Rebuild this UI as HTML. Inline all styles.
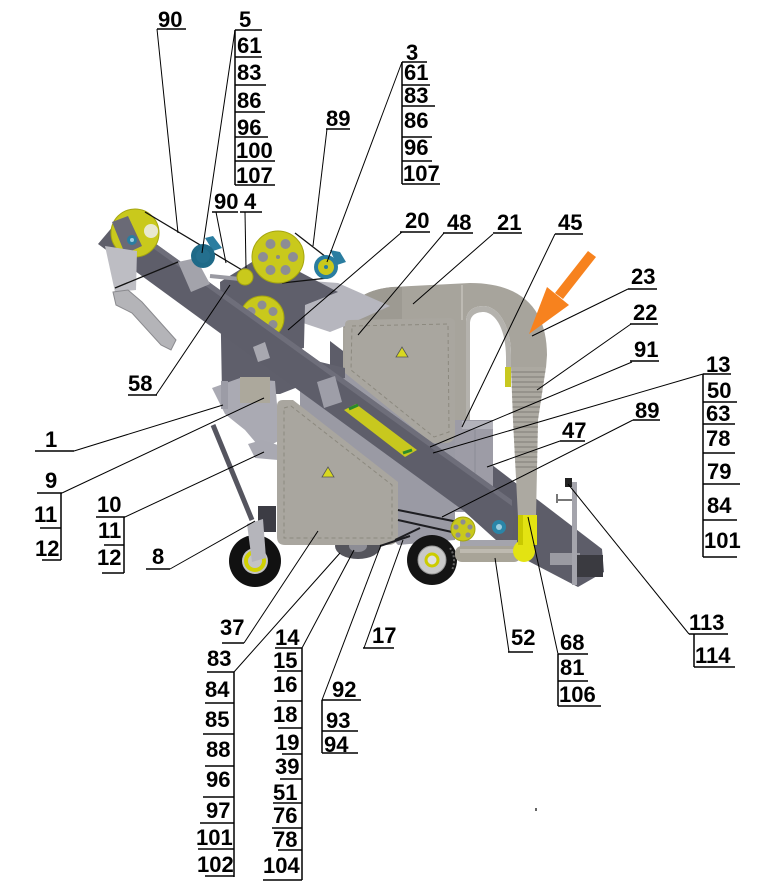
<!DOCTYPE html>
<html><head><meta charset="utf-8"><style>
html,body{margin:0;padding:0;background:#fff;}
svg{display:block;}
text{font-family:"Liberation Sans",Arial,sans-serif;font-weight:bold;font-size:22px;fill:#000;}
</style></head><body>
<svg width="769" height="888" viewBox="0 0 769 888" xmlns="http://www.w3.org/2000/svg">
<defs>
<clipPath id="pipe"><path d="M511,367 L546,367 L538,420 L536,517 L518,517 L513,420 Z"/></clipPath>
</defs>
<rect width="769" height="888" fill="#fff"/>

<polygon points="330,341 602,549 604,572 578,587 507,550 330,390" fill="#5d5d69"/>

<path d="M343,330 Q345,292 392,287 L470,283 C525,283 547,312 547,355 L546,368 L511,368 L511,355 C511,328 500,307 484,306 C472,306 466,312 466,322 L466,430 L343,430 Z" fill="#a7a49c"/>
<path d="M343,330 Q345,292 392,287 L402,287 L402,322 L343,328 Z" fill="#9d9a92"/>
<line x1="462" y1="285" x2="462" y2="320" stroke="#bdbab3" stroke-width="2"/>
<path d="M466,322 C466,312 472,306 484,306 C500,307 511,328 511,355 L511,368 L506,368 L506,357 C506,332 497,313 484,312 C475,312 470,316 470,324 L470,420 L466,420 Z" fill="#b4b2ad"/>
<path d="M511,367 L546,367 L538,420 L536,517 L518,517 L513,420 Z" fill="#aca9a1"/>
<g clip-path="url(#pipe)" stroke-width="1.4">
<path d="M505,372H550M505,377H550M505,382H550M505,387H550M505,392H550M505,397H550M505,402H550M505,407H550M505,412H550M505,417H550M505,422H550M505,427H550M505,432H550M505,437H550M505,442H550M505,447H550M505,452H550M505,457H550M505,462H550M505,467H550" stroke="#8f8c85"/>
</g>
<rect x="505" y="367" width="6" height="20" fill="#c8c820"/>

<rect x="453" y="420" width="40" height="92" fill="#9d9ca6"/>
<rect x="462" y="421" width="31" height="8" fill="#b3b3bb"/>
<line x1="475" y1="430" x2="475" y2="505" stroke="#8b8b95" stroke-width="1"/>

<polygon points="300,385 345,372 455,420 455,540 398,545 300,440" fill="#9a9aa4"/>

<polygon points="298,280 338,283 390,306 345,326 330,332 300,322" fill="#b6b6be"/>
<polygon points="220,282 252,262 300,272 338,292 305,305 303,385 280,394 222,394" fill="#5f5f6b"/>
<polygon points="300,357 345,368 345,378 300,386" fill="#62626e"/>
<circle cx="304" cy="353" r="5" fill="#fff"/>

<circle cx="262" cy="318" r="22" fill="#c9c91c" stroke="#a5a510" stroke-width="1"/>
<g fill="#8d8d93"><circle cx="262" cy="305" r="4.5"/><circle cx="273" cy="311.5" r="4.5"/><circle cx="273" cy="324.5" r="4.5"/><circle cx="251" cy="311.5" r="4.5"/></g>

<path d="M350,320 L450,318 Q455,318 455,323 L455,433 Q455,443 445,443 L432,443 L345,373 L345,325 Q345,320 350,320 Z" fill="#a9a69f"/>
<path d="M352,326 L448,324 L449,432 L434,437 L351,370 Z" fill="none" stroke="#8c897f" stroke-width="1" stroke-dasharray="4 3"/>
<polygon points="396,357 408,357 402,347" fill="#d8d820" stroke="#555" stroke-width="0.8"/>

<polygon points="120,218 512,500 514,520 512,542 505,541 98,244" fill="#5e5e6a"/>
<polygon points="120,218 512,500 512,506 118,223" fill="#6e6e7a"/>
<polygon points="178,262 196,258 210,284 191,292" fill="#a3a3ab"/>
<polygon points="317,382 335,376 342,402 324,408" fill="#9e9ea8"/>
<polygon points="253,347 265,342 270,358 258,362" fill="#a8a8b0"/>
<polygon points="344,410 356,404 417,450 405,457" fill="#c8c81e"/>
<line x1="349" y1="409" x2="358" y2="405" stroke="#2b8a2b" stroke-width="3"/>
<line x1="403" y1="453" x2="412" y2="450" stroke="#2b8a2b" stroke-width="3"/>

<polygon points="212,388 240,378 275,381 280,440 262,450 245,430 225,414" fill="#aaaab3"/>
<rect x="240" y="377" width="30" height="26" fill="#aca89c"/>
<rect x="221" y="381" width="7" height="28" fill="#9c9ca6"/>
<polygon points="248,444 262,440 278,445 278,460 255,458" fill="#a9a9b2"/>

<ellipse cx="358" cy="546" rx="23" ry="13" fill="#55555c"/>
<ellipse cx="358" cy="546" rx="9" ry="6" fill="#8d8d95"/>

<path d="M283,400 L293,400 L398,482 L398,535 Q398,545 388,545 L285,545 Q277,545 277,537 L277,406 Q277,400 283,400 Z" fill="#a9a69f"/>
<path d="M284,408 L291,406 L392,485 L392,538 L284,538 Z" fill="none" stroke="#8c897f" stroke-width="1" stroke-dasharray="4 3"/>
<polygon points="322,477 334,477 328,467" fill="#d8d820" stroke="#555" stroke-width="0.8"/>

<g stroke="#1e1e22" stroke-width="2" fill="none">
<line x1="398" y1="510" x2="458" y2="522"/>
<line x1="398" y1="520" x2="452" y2="532"/>
<line x1="380" y1="546" x2="410" y2="536"/>
<line x1="395" y1="540" x2="420" y2="528"/>
</g>

<line x1="213" y1="425" x2="252" y2="520" stroke="#55555f" stroke-width="5"/>
<circle cx="255" cy="561" r="26" fill="#111"/>
<circle cx="255" cy="561" r="13" fill="#c4c4c4"/>
<circle cx="255" cy="561" r="9" fill="none" stroke="#d2d200" stroke-width="4"/>
<rect x="258" y="506" width="18" height="26" fill="#3c3c44"/>
<polygon points="247,524 263,519 266,558 252,562" fill="#b5b5bb"/>

<circle cx="432" cy="560" r="25" fill="#141414"/>
<path d="M450,548 A22,22 0 0 1 452,570" stroke="#666" stroke-width="2" fill="none" stroke-dasharray="2 2"/>
<circle cx="432" cy="560" r="14" fill="#c9c9c9" stroke="#999" stroke-width="1"/>
<circle cx="432" cy="560" r="6" fill="#e0e0e0" stroke="#cccc00" stroke-width="3"/>

<rect x="460" y="540" width="57" height="10" fill="#a4a4ac"/>
<rect x="455" y="546" width="66" height="16" rx="7" fill="#a8a498"/>
<rect x="460" y="549" width="56" height="4" fill="#bebab0"/>

<circle cx="463" cy="529" r="12" fill="#c9c91c" stroke="#a5a510" stroke-width="1"/>
<g fill="#8d8d93"><circle cx="463" cy="522" r="2.6"/><circle cx="470" cy="527" r="2.6"/><circle cx="468" cy="535" r="2.6"/><circle cx="458" cy="535" r="2.6"/><circle cx="456" cy="527" r="2.6"/></g>
<circle cx="499" cy="527" r="7" fill="#2a85a8"/>
<circle cx="499" cy="527" r="3" fill="#9ccde0"/>

<rect x="518" y="515" width="19" height="30" fill="#e3e312"/>
<circle cx="524" cy="551" r="11" fill="#e3e312"/>
<rect x="518" y="515" width="5" height="30" fill="#c9c900"/>

<rect x="550" y="553" width="30" height="12" fill="#9a9aa2"/>
<rect x="577" y="555" width="26" height="22" fill="#3a3a40"/>
<rect x="572" y="482" width="5" height="103" fill="#a4a4ac"/>
<line x1="556" y1="500" x2="572" y2="500" stroke="#777" stroke-width="2"/>
<line x1="557" y1="494" x2="557" y2="503" stroke="#777" stroke-width="2"/>
<rect x="565" y="478" width="7" height="9" fill="#222"/>

<circle cx="135" cy="233" r="24" fill="#c9c91c" stroke="#a5a510" stroke-width="1"/>
<circle cx="151" cy="231" r="7" fill="#e8e8d0"/>
<polygon points="112,222 128,216 142,246 125,254" fill="#6a6a76"/>
<circle cx="132" cy="240" r="5" fill="#2a7da0"/>
<circle cx="132" cy="240" r="2" fill="#9ccde0"/>
<polygon points="105,246 137,251 136,290 115,292" fill="#bdbdc3"/>
<path d="M113,292 L128,290 L142,302 L176,340 L171,350 L161,345 L132,313 L116,305 Z" fill="#b4b4b8" stroke="#8a8a8e" stroke-width="1"/>

<g stroke="#111" stroke-width="1.3" fill="none">
<line x1="145" y1="212" x2="242" y2="270"/>
<line x1="115" y1="288" x2="178" y2="262"/>
<line x1="295" y1="233" x2="326" y2="257"/>
<line x1="282" y1="283" x2="328" y2="278"/>
</g>
<line x1="210" y1="276" x2="240" y2="279" stroke="#9a9aa2" stroke-width="4"/>
<circle cx="278" cy="257" r="26" fill="#c9c91c" stroke="#a5a510" stroke-width="1"/>
<g fill="#8d8d93"><circle cx="293" cy="257" r="5"/><circle cx="285.5" cy="270" r="5"/><circle cx="270.5" cy="270" r="5"/><circle cx="263" cy="257" r="5"/><circle cx="270.5" cy="244" r="5"/><circle cx="285.5" cy="244" r="5"/></g>
<circle cx="278" cy="257" r="2" fill="#888"/>
<circle cx="245" cy="277" r="8" fill="#c9c91c" stroke="#a5a510" stroke-width="1"/>
<polygon points="205,238 213,236 222,248 213,251" fill="#2a7da0"/>
<circle cx="203" cy="256" r="12" fill="#1f6a88"/>
<circle cx="203" cy="256" r="7" fill="#246f8e"/>
<polygon points="330,250 340,252 346,262 337,265" fill="#2a7da0"/>
<circle cx="326" cy="267" r="12" fill="#2a7da0"/>
<circle cx="326" cy="267" r="8" fill="#c9c91c"/>
<circle cx="326" cy="267" r="2" fill="#2a7da0"/>

<polygon points="596,257 588,251 555,293 563,299" fill="#f7821e"/>
<polygon points="547,287 569,305 529,334" fill="#f7821e"/>

<rect x="535" y="808" width="2" height="3" fill="#666"/>

<g stroke="#000" stroke-width="1" fill="none">
<line x1="157" y1="29" x2="178" y2="233"/>
<line x1="235" y1="30" x2="202" y2="253"/>
<line x1="402" y1="62" x2="327" y2="262"/>
<line x1="327" y1="129" x2="313" y2="246"/>
<line x1="216" y1="212" x2="226" y2="263"/>
<line x1="245" y1="212" x2="246" y2="268"/>
<line x1="402" y1="232" x2="288" y2="330"/>
<line x1="444" y1="233" x2="358" y2="335"/>
<line x1="493" y1="234" x2="413" y2="304"/>
<line x1="555" y1="234" x2="462" y2="427"/>
<line x1="628" y1="289" x2="532" y2="336"/>
<line x1="631" y1="324" x2="537" y2="390"/>
<line x1="632" y1="362" x2="430" y2="447"/>
<line x1="703" y1="374" x2="433" y2="453"/>
<line x1="633" y1="420" x2="442" y2="517"/>
<line x1="560" y1="441" x2="487" y2="467"/>
<line x1="689" y1="634" x2="568" y2="484"/>
<line x1="156" y1="395" x2="230" y2="285"/>
<line x1="74" y1="451" x2="223" y2="405"/>
<line x1="62" y1="493" x2="264" y2="398"/>
<line x1="125" y1="517" x2="264" y2="452"/>
<line x1="170" y1="569" x2="255" y2="521"/>
<line x1="244" y1="643" x2="318" y2="531"/>
<line x1="234" y1="672" x2="340" y2="553"/>
<line x1="302" y1="648" x2="354" y2="550"/>
<line x1="322" y1="700" x2="381" y2="545"/>
<line x1="364" y1="648" x2="403" y2="540"/>
<line x1="509" y1="652" x2="495" y2="558"/>
<line x1="558" y1="654" x2="528" y2="517"/>
</g>

<g stroke="#000" stroke-width="1.5" fill="none">
<path d="M157,29H186"/>
<path d="M235,30H262M235,57H262M235,85H266M235,112H265M235,137H268M235,161H275M235,185H275M235,30V185"/>
<path d="M402,62H427M402,85H430M402,106H435M402,137H432M402,161H432M402,184H440M402,62V184"/>
<path d="M326,129H350"/>
<path d="M212,212H238M240,212H262"/>
<path d="M400,232H430M443,233H473M493,233H522M555,234H583"/>
<path d="M628,289H657M630,324H658M630,361H659"/>
<path d="M703,374H731M703,402H737M703,424H735M703,453H735M703,484H740M703,520H737M703,557H737M703,374V557"/>
<path d="M633,420H660M560,441H585"/>
<path d="M689,634H728M694,667H735M694,634V667"/>
<path d="M128,395H157"/>
<path d="M35,451H74"/>
<path d="M37,493H62M40,528H61M42,560H61M61,493V560"/>
<path d="M96,517H125M104,545H124M102,573H124M124,517V573"/>
<path d="M146,569H170"/>
<path d="M222,643H244"/>
<path d="M207,672H234M205,703H234M203,734H234M205,766H234M203,797H234M200,823H234M198,849H234M205,876H234M234,672V877"/>
<path d="M275,648H302M277,671H302M277,701H302M278,728H302M282,754H302M280,779H302M273,803H302M272,828H302M278,850H302M263,880H302M302,648V880"/>
<path d="M363,648H394"/>
<path d="M322,700H361M322,731H358M322,753H358M322,700V753"/>
<path d="M508,652H533"/>
<path d="M558,654H588M558,681H588M558,706H601M558,654V706"/>
</g>

<text x="158" y="27">90</text>
<text x="239" y="27">5</text>
<text x="237" y="53">61</text>
<text x="237" y="80">83</text>
<text x="237" y="108">86</text>
<text x="237" y="135">96</text>
<text x="236" y="158">100</text>
<text x="236" y="183">107</text>

<text x="406" y="60">3</text>
<text x="404" y="80">61</text>
<text x="404" y="103">83</text>
<text x="404" y="128">86</text>
<text x="404" y="155">96</text>
<text x="403" y="181">107</text>

<text x="326" y="126">89</text>
<text x="214" y="209">90</text>
<text x="244" y="209">4</text>
<text x="405" y="228">20</text>
<text x="447" y="230">48</text>
<text x="497" y="230">21</text>
<text x="558" y="230">45</text>
<text x="631" y="284">23</text>
<text x="633" y="320">22</text>
<text x="634" y="357">91</text>

<text x="706" y="372">13</text>
<text x="707" y="398">50</text>
<text x="706" y="421">63</text>
<text x="706" y="446">78</text>
<text x="707" y="479">79</text>
<text x="707" y="513">84</text>
<text x="704" y="548">101</text>

<text x="635" y="418">89</text>
<text x="562" y="438">47</text>
<text x="689" y="630">113</text>
<text x="695" y="663">114</text>

<text x="128" y="391">58</text>
<text x="45" y="447">1</text>
<text x="45" y="488">9</text>
<text x="34" y="522">11</text>
<text x="35" y="556">12</text>
<text x="97" y="512">10</text>
<text x="98" y="538">11</text>
<text x="97" y="565">12</text>
<text x="152" y="564">8</text>

<text x="220" y="635">37</text>
<text x="207" y="666">83</text>
<text x="205" y="697">84</text>
<text x="205" y="727">85</text>
<text x="206" y="757">88</text>
<text x="206" y="787">96</text>
<text x="206" y="818">97</text>
<text x="196" y="845">101</text>
<text x="197" y="872">102</text>

<text x="275" y="645">14</text>
<text x="273" y="668">15</text>
<text x="273" y="692">16</text>
<text x="273" y="722">18</text>
<text x="275" y="750">19</text>
<text x="275" y="774">39</text>
<text x="273" y="800">51</text>
<text x="273" y="823">76</text>
<text x="273" y="847">78</text>
<text x="263" y="873">104</text>

<text x="372" y="643">17</text>
<text x="332" y="697">92</text>
<text x="326" y="728">93</text>
<text x="324" y="752">94</text>

<text x="511" y="645">52</text>
<text x="560" y="650">68</text>
<text x="560" y="675">81</text>
<text x="559" y="702">106</text>
</svg>
</body></html>
